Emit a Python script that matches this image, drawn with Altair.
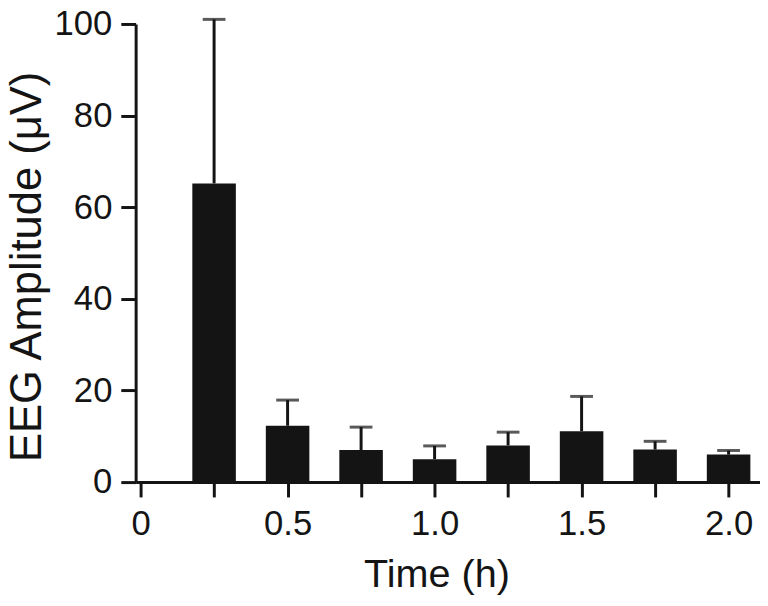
import altair as alt
import pandas as pd

time_h = [0.25, 0.5, 0.75, 1.0, 1.25, 1.5, 1.75, 2.0]
amplitude = [65.2, 12.3, 7.0, 5.0, 8.0, 11.1, 7.1, 6.0]
error = [35.8, 5.6, 5.0, 2.9, 2.9, 7.6, 1.8, 0.9]

df = pd.DataFrame({"t": time_h, "amp": amplitude, "err": error})
df["top"] = df["amp"] + df["err"]

FONT = "Liberation Sans"
INK = "#141414"

xscale = alt.Scale(domain=[0, 2.09], nice=False, zero=False)
yscale = alt.Scale(domain=[0, 100], nice=False)

xaxis = alt.Axis(
    values=[0, 0.25, 0.5, 0.75, 1.0, 1.25, 1.5, 1.75, 2.0],
    labelExpr="datum.value == 0 ? '0' : ((datum.value * 2) % 1 == 0 ? format(datum.value, '.1f') : '')",
    title="Time (h)", titleFontSize=40, titleFont=FONT, titleFontWeight="normal",
    titleColor=INK, titleX=304, titleY=74, titleBaseline="top", titleAlign="center",
    labelFont=FONT, labelFontSize=35, labelColor=INK, labelPadding=10, labelFlush=False,
    tickSize=15, tickWidth=3, tickColor=INK, domainWidth=3, domainColor=INK,
    grid=False, labelOverlap=False,
)
yaxis = alt.Axis(
    values=[0, 20, 40, 60, 80, 100], format="d",
    title="EEG Amplitude (\u03bcV)", titleFontSize=44, titleFont=FONT, titleFontWeight="normal",
    titleColor=INK, titleX=-109, titleY=245, titleBaseline="middle", titleAlign="center", titleAngle=-90,
    labelFont=FONT, labelFontSize=35, labelColor=INK, labelPadding=9,
    tickSize=15, tickWidth=3, tickColor=INK, domainWidth=3, domainColor=INK,
    grid=False,
)

base = alt.Chart(df)

bars = base.mark_bar(color=INK, size=44).encode(
    x=alt.X("t:Q", scale=xscale, axis=xaxis),
    y=alt.Y("amp:Q", scale=yscale, axis=yaxis),
)

rules = base.mark_rule(color=INK, strokeWidth=3).encode(
    x="t:Q", y="amp:Q", y2="top:Q"
)

caps = base.mark_tick(color=INK, size=23, thickness=3, orient="horizontal").encode(
    x="t:Q", y="top:Q"
)

chart = alt.layer(rules, bars, caps).properties(
    width=631, height=463,
    autosize=alt.AutoSizeParams(type="none"),
    padding={"left": 129, "top": 13, "right": 0, "bottom": 114},
).configure_view(stroke=None)

chart.save("out.html", embed_options={"renderer": "svg", "actions": False})
